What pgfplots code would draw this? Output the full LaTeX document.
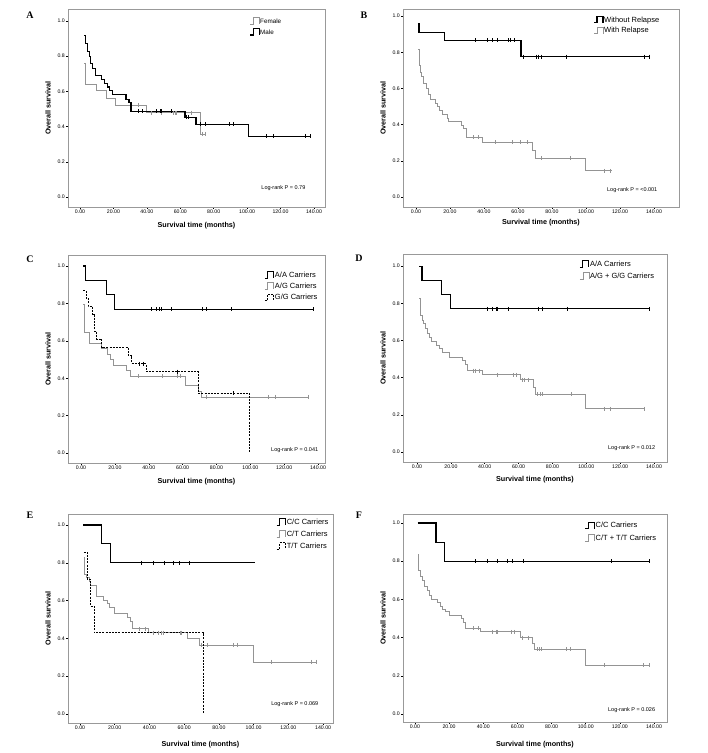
\documentclass[border=0pt]{standalone}
\usepackage{fontspec}
\setmainfont{Liberation Sans}
\newfontfamily\letterfont{Liberation Serif}
\usepackage{pgfplots}
\pgfplotsset{compat=1.18}
\definecolor{kmgray}{gray}{0.58}

\pgfplotsset{
  km/.style={
    scale only axis, anchor=south west, clip=false, const plot,
    axis line style={draw=black!40, line width=0.6pt},
    tick pos=left, tick align=outside, major tick length=2pt,
    tick style={black, line width=0.5pt},
    xtick={0,20,40,60,80,100,120,140},
    ytick={0,0.2,0.4,0.6,0.8,1},
    /pgf/number format/assume math mode=true,
    xticklabel style={/pgf/number format/.cd, fixed, fixed zerofill, precision=2, /tikz/.cd},
    yticklabel style={/pgf/number format/.cd, fixed, fixed zerofill, precision=1, /tikz/.cd},
    tick label style={font=\fontsize{5.2}{6}\selectfont, inner sep=1pt},
    label style={font=\fontsize{7.2}{8}\selectfont\bfseries, anchor=center},
    xlabel={Survival time (months)}, ylabel={Overall survival},
    legend cell align=left,
    legend image code/.code={\draw[#1] (0pt,-3pt) -- (3pt,-3pt) -- (3pt,3.5pt) -- (9pt,3.5pt) -- (9pt,-3pt);},
    legend style={draw=none, fill=none, inner sep=0pt, anchor=north west,
      nodes={inner sep=0.6pt, text height=5.2pt, text depth=1pt},
      font=\fontsize{7.5}{8}\selectfont, row sep=4.2pt},
  },
  kmblack/.style={black, line width=1.1pt},
  kmgrayline/.style={kmgray, line width=0.8pt},
  kmdash/.style={black, line width=0.8pt, dash pattern=on 2pt off 1.2pt},
  cens/.style={only marks, mark=|, mark size=2pt, mark options={line width=0.5pt}, forget plot},
}
\newcommand{\lograng}{\fontsize{5.5}{6}\selectfont}
\newcommand{\panel}{\letterfont\bfseries\fontsize{10}{12}\selectfont}

\begin{document}
\begin{tikzpicture}
\path[use as bounding box] (0pt,0pt) rectangle (708pt,753pt);

% ---------- A ----------
\node[font=\panel] at (30pt,738pt) {A};
\begin{axis}[km, at={(68pt,546pt)}, width=257pt, height=198pt,
  xmin=-7.2, xmax=146.6, ymin=-0.057, ymax=1.068,
  xlabel style={at={(axis description cs:0.5,-0.096)}},
  ylabel style={at={(axis description cs:-0.078,0.5)}},
  legend style={at={(axis cs:101.3,1.023)}, font=\fontsize{6.3}{7}\selectfont, row sep=3.2pt}]
\addplot[kmgrayline] coordinates {(2.4,0.76)(3.0,0.64)(10.0,0.604)(15.6,0.56)(21.0,0.523)(39.9,0.479)(71.8,0.358)(75.2,0.358)};
\addlegendentry{Female}
\addplot[kmblack] coordinates {(2.4,0.915)(3.4,0.87)(4.4,0.825)(5.4,0.80)(6.4,0.76)(7.6,0.73)(9.0,0.69)(13.0,0.665)(14.6,0.645)(16.4,0.625)(17.6,0.605)(19.5,0.58)(27.5,0.555)(29.3,0.535)(30.5,0.487)(62.8,0.452)(69.4,0.413)(101,0.345)(137.6,0.345)};
\addlegendentry{Male}
\addplot[cens, kmgray] coordinates {(34.9,0.523)(42.9,0.479)(48.9,0.479)(55.8,0.479)(56.8,0.479)(57.8,0.479)(66.4,0.479)(73.2,0.358)(74.8,0.358)};
\addplot[cens, black] coordinates {(34.9,0.487)(37.5,0.487)(45.5,0.487)(47.9,0.487)(48.5,0.487)(54.4,0.487)(63.5,0.452)(64.5,0.452)(71.8,0.413)(74.8,0.413)(89.4,0.413)(91.7,0.413)(111.7,0.345)(115.7,0.345)(134.6,0.345)(137.6,0.345)};
\node[font=\lograng] at (axis cs:121.7,0.049) {Log-rank P = 0.79};
\end{axis}

% ---------- B ----------
\node[font=\panel] at (364pt,738pt) {B};
\begin{axis}[km, at={(403pt,546pt)}, width=276pt, height=198pt,
  xmin=-7.6, xmax=154.7, ymin=-0.055, ymax=1.039,
  xlabel style={at={(axis description cs:0.5,-0.081)}},
  ylabel style={at={(axis description cs:-0.072,0.5)}},
  legend style={at={(axis cs:104.3,1.002)}, row sep=3pt}]
\addplot[kmblack] coordinates {(1.2,0.956)(1.8,0.91)(16.7,0.866)(61.8,0.776)(137,0.776)};
\addlegendentry{Without Relapse}
\addplot[kmgrayline] coordinates {(1.4,0.816)(1.8,0.73)(2.6,0.69)(3.5,0.665)(4.5,0.627)(6.1,0.60)(7.5,0.565)(8.4,0.54)(11.4,0.52)(12.4,0.50)(13.9,0.477)(15.3,0.457)(18.3,0.437)(19.2,0.417)(26.5,0.397)(28,0.377)(29.5,0.33)(38.9,0.303)(68.7,0.26)(70.3,0.215)(99.7,0.145)(115.5,0.145)};
\addlegendentry{With Relapse}
\addplot[cens, black] coordinates {(35,0.866)(41.8,0.866)(44.7,0.866)(47.7,0.866)(54,0.866)(55.6,0.866)(58.1,0.866)(63,0.776)(70.9,0.776)(71.9,0.776)(73.8,0.776)(88.6,0.776)(134,0.776)(137,0.776)};
\addplot[cens, kmgray] coordinates {(33.6,0.33)(36.9,0.33)(46.7,0.303)(56.5,0.303)(61.5,0.303)(65.4,0.303)(73.8,0.215)(90.9,0.215)(110.5,0.145)(114.5,0.145)};
\node[font=\lograng] at (axis cs:127.2,0.04) {Log-rank P = <0.001};
\end{axis}

% ---------- C ----------
\node[font=\panel] at (30pt,494pt) {C};
\begin{axis}[km, at={(68pt,290pt)}, width=257pt, height=208pt,
  xmin=-7.7, xmax=144.1, ymin=-0.053, ymax=1.059,
  xlabel style={at={(axis description cs:0.5,-0.091)}},
  ylabel style={at={(axis description cs:-0.078,0.5)}},
  legend style={at={(axis cs:108.1,0.974)}, row sep=3.6pt}]
\addplot[kmblack] coordinates {(1.4,1.0)(2.9,0.923)(15.1,0.847)(20,0.77)(137,0.77)};
\addlegendentry{A/A Carriers}
\addplot[kmgrayline] coordinates {(1.4,0.795)(2,0.647)(4.7,0.588)(11.8,0.56)(15.5,0.53)(17.1,0.50)(19.1,0.47)(26.5,0.44)(29.3,0.41)(61.7,0.36)(69.5,0.33)(71.2,0.30)(134,0.30)};
\addlegendentry{A/G Carriers}
\addplot[kmdash] coordinates {(1.4,0.87)(2.9,0.826)(4.3,0.783)(6.9,0.74)(7.9,0.652)(9.2,0.609)(12.2,0.565)(27.9,0.52)(29.9,0.478)(38.7,0.435)(69.2,0.32)(99.7,0.0)};
\addlegendentry{G/G Carriers}
\addplot[cens, black] coordinates {(41.7,0.77)(44.2,0.77)(46,0.77)(47.6,0.77)(53.5,0.77)(71.8,0.77)(74.1,0.77)(88.9,0.77)(137,0.77)};
\addplot[cens, kmgray] coordinates {(33.8,0.41)(48,0.41)(57,0.41)(58.4,0.41)(74.1,0.30)(110.5,0.30)(115,0.30)(134,0.30)};
\addplot[cens, black] coordinates {(34.5,0.478)(37,0.478)(57,0.435)(90,0.32)};
\node[font=\lograng] at (axis cs:126.2,0.014) {Log-rank P = 0.041};
\end{axis}

% ---------- D ----------
\node[font=\panel] at (359pt,495pt) {D};
\begin{axis}[km, at={(403pt,291pt)}, width=264pt, height=208pt,
  xmin=-8.3, xmax=147.7, ymin=-0.054, ymax=1.065,
  xlabel style={at={(axis description cs:0.5,-0.087)}},
  ylabel style={at={(axis description cs:-0.076,0.5)}},
  legend style={at={(axis cs:95.8,1.033)}, row sep=4.6pt}]
\addplot[kmblack] coordinates {(1.4,1.0)(2.9,0.923)(14.7,0.847)(20,0.77)(137,0.77)};
\addlegendentry{A/A Carriers}
\addplot[kmgrayline] coordinates {(1.4,0.825)(1.8,0.735)(2.9,0.71)(3.9,0.69)(4.9,0.665)(6.3,0.64)(7.3,0.615)(8.3,0.595)(11.2,0.575)(13.2,0.555)(15.1,0.535)(19,0.508)(27,0.49)(28.3,0.47)(29.9,0.437)(38.7,0.415)(61.3,0.388)(68.8,0.345)(70.2,0.31)(99.7,0.232)(134,0.232)};
\addlegendentry{A/G + G/G Carriers}
\addplot[cens, black] coordinates {(41.7,0.77)(44.2,0.77)(46.6,0.77)(47.6,0.77)(53.9,0.77)(71.6,0.77)(73.7,0.77)(88.9,0.77)(137,0.77)};
\addplot[cens, kmgray] coordinates {(33.4,0.437)(34.4,0.437)(36.8,0.437)(47.6,0.415)(57,0.415)(58.4,0.415)(62.3,0.388)(63.3,0.388)(65.9,0.388)(71.2,0.31)(72.6,0.31)(74.1,0.31)(91.3,0.31)(110.5,0.232)(114.4,0.232)(134.1,0.232)};
\node[font=\lograng] at (axis cs:126.8,0.023) {Log-rank P = 0.012};
\end{axis}

% ---------- E ----------
\node[font=\panel] at (30pt,238pt) {E};
\begin{axis}[km, at={(68pt,30pt)}, width=265pt, height=209pt,
  xmin=-6.9, xmax=145.7, ymin=-0.048, ymax=1.058,
  xlabel style={at={(axis description cs:0.5,-0.105)}},
  ylabel style={at={(axis description cs:-0.075,0.5)}},
  legend style={at={(axis cs:112.8,1.037)}, row sep=4.4pt}]
\addplot[kmblack] coordinates {(1.9,1.0)(12.5,0.9)(17.6,0.8)(100.7,0.8)};
\addlegendentry{C/C Carriers}
\addplot[kmgrayline] coordinates {(2.3,0.83)(2.7,0.74)(3.8,0.72)(5.4,0.70)(6.1,0.68)(9.6,0.62)(13.4,0.60)(15.7,0.585)(16.9,0.565)(19.6,0.53)(27.4,0.51)(29.2,0.49)(30.3,0.45)(39.3,0.43)(61.8,0.40)(68.7,0.365)(99.7,0.275)(135.8,0.275)};
\addlegendentry{C/T Carriers}
\addplot[kmdash] coordinates {(2.3,0.857)(4.2,0.714)(6.1,0.571)(8.1,0.43)(71,0.0)};
\addlegendentry{T/T Carriers}
\addplot[cens, black] coordinates {(35.5,0.8)(42.2,0.8)(48.3,0.8)(53.7,0.8)(57.2,0.8)(62.9,0.8)};
\addplot[cens, kmgray] coordinates {(34.1,0.45)(37.4,0.45)(42.2,0.43)(45.1,0.43)(47,0.43)(47.9,0.43)(57.5,0.43)(58.5,0.43)(70,0.365)(73.3,0.365)(88.2,0.365)(90.5,0.365)(110.3,0.275)(133.3,0.275)(135.8,0.275)};
\node[font=\lograng] at (axis cs:123.7,0.051) {Log-rank P = 0.069};
\end{axis}

% ---------- F ----------
\node[font=\panel] at (359pt,238pt) {F};
\begin{axis}[km, at={(403pt,31pt)}, width=264pt, height=208pt,
  xmin=-7.0, xmax=147.6, ymin=-0.042, ymax=1.047,
  xlabel style={at={(axis description cs:0.5,-0.11)}},
  ylabel style={at={(axis description cs:-0.076,0.5)}},
  legend style={at={(axis cs:99.4,1.007)}, row sep=4.6pt}]
\addplot[kmblack] coordinates {(1.6,1.0)(12.3,0.9)(17.2,0.8)(137,0.8)};
\addlegendentry{C/C Carriers}
\addplot[kmgrayline] coordinates {(1.9,0.835)(2.3,0.75)(3.1,0.72)(4.5,0.70)(5.5,0.67)(7.0,0.645)(8.4,0.62)(9.7,0.60)(13.3,0.585)(14.8,0.565)(16.2,0.55)(18.1,0.535)(20.1,0.515)(27.3,0.50)(28.5,0.48)(29.8,0.45)(38.6,0.43)(62,0.40)(68.8,0.37)(69.8,0.34)(100,0.255)(137,0.255)};
\addlegendentry{C/T + T/T Carriers}
\addplot[cens, black] coordinates {(35.3,0.8)(42.1,0.8)(48.4,0.8)(54.2,0.8)(57.1,0.8)(63.4,0.8)(115,0.8)(137.1,0.8)};
\addplot[cens, kmgray] coordinates {(34.3,0.45)(37.2,0.45)(45,0.43)(47.4,0.43)(48,0.43)(56.2,0.43)(58.1,0.43)(63,0.40)(66.3,0.40)(71.4,0.34)(72.7,0.34)(74.1,0.34)(88.7,0.34)(90.9,0.34)(110.7,0.255)(133.8,0.255)(137.1,0.255)};
\node[font=\lograng] at (axis cs:126.9,0.019) {Log-rank P = 0.026};
\end{axis}
\end{tikzpicture}
\end{document}
